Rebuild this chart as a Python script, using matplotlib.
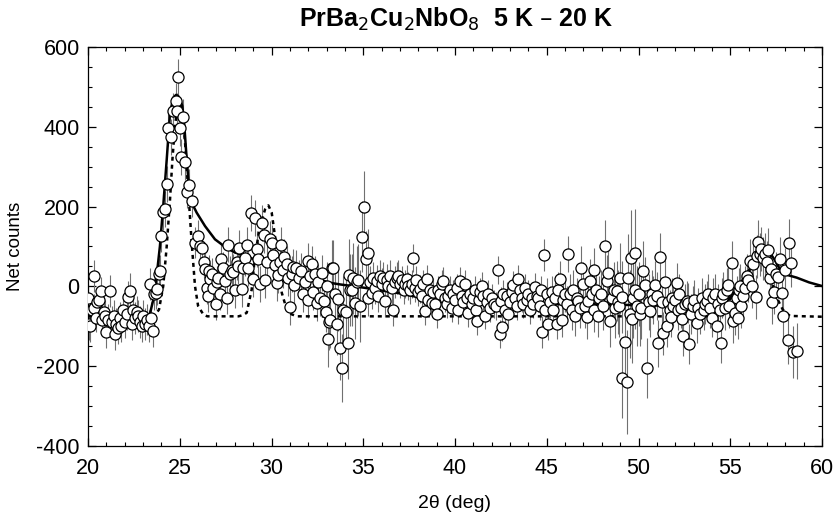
import matplotlib
matplotlib.use("Agg")
import matplotlib.pyplot as plt
from matplotlib.ticker import MultipleLocator

# ---- data ----
two_theta = [20.0, 20.05, 20.1, 20.2, 20.3, 20.35, 20.45, 20.5, 20.6, 20.7, 20.75, 20.85, 20.95, 21.0, 21.1, 21.2, 21.3, 21.4, 21.47, 21.55,
             21.65, 21.75, 21.8, 21.9, 22.0, 22.1, 22.16, 22.29, 22.38, 22.47, 22.55, 22.65, 22.74, 22.82, 22.92, 23.0, 23.1, 23.2, 23.32, 23.38,
             23.45, 23.56, 23.62, 23.69, 23.78, 23.85, 23.92, 23.98, 24.07, 24.2, 24.29, 24.38, 24.52, 24.65, 24.78, 24.85, 24.89, 25.0, 25.07, 25.2,
             25.29, 25.38, 25.5, 25.65, 25.83, 26.01, 26.1, 26.2, 26.3, 26.38, 26.47, 26.52, 26.59, 26.65, 26.75, 26.83, 26.96, 27.05, 27.1, 27.18,
             27.25, 27.37, 27.47, 27.56, 27.65, 27.75, 27.85, 27.92, 28.0, 28.1, 28.2, 28.25, 28.37, 28.45, 28.55, 28.65, 28.74, 28.88, 29.0, 29.1,
             29.19, 29.28, 29.37, 29.5, 29.6, 29.65, 29.75, 29.92, 30.01, 30.1, 30.2, 30.28, 30.37, 30.45, 30.52, 30.6, 30.7, 30.83, 30.92, 31.0,
             31.1, 31.19, 31.24, 31.35, 31.5, 31.61, 31.73, 31.85, 31.97, 32.0, 32.1, 32.19, 32.28, 32.38, 32.46, 32.55, 32.64, 32.77, 32.88, 32.95,
             33.05, 33.1, 33.15, 33.19, 33.28, 33.37, 33.45, 33.55, 33.61, 33.73, 33.83, 33.92, 34.04, 34.15, 34.22, 34.3, 34.37, 34.45, 34.55, 34.65,
             34.73, 34.83, 34.95, 35.06, 35.13, 35.24, 35.28, 35.35, 35.46, 35.55, 35.65, 35.73, 35.82, 35.9, 36.0, 36.1, 36.19, 36.28, 36.37, 36.46,
             36.55, 36.64, 36.73, 36.82, 36.91, 37.0, 37.1, 37.2, 37.28, 37.37, 37.46, 37.55, 37.64, 37.73, 37.82, 37.9, 38.0, 38.09, 38.2, 38.28,
             38.37, 38.46, 38.55, 38.64, 38.73, 38.82, 38.91, 39.0, 39.09, 39.18, 39.27, 39.36, 39.45, 39.55, 39.64, 39.73, 39.82, 39.91, 40.0, 40.09,
             40.18, 40.27, 40.36, 40.45, 40.54, 40.64, 40.73, 40.82, 40.91, 41.0, 41.09, 41.14, 41.22, 41.3, 41.38, 41.45, 41.54, 41.63, 41.72, 41.8,
             41.9, 42.0, 42.1, 42.23, 42.36, 42.45, 42.5, 42.55, 42.64, 42.73, 42.82, 42.91, 43.0, 43.09, 43.18, 43.27, 43.36, 43.45, 43.54, 43.63,
             43.69, 43.8, 43.9, 44.0, 44.1, 44.18, 44.27, 44.36, 44.45, 44.54, 44.62, 44.7, 44.76, 44.87, 44.91, 45.0, 45.09, 45.18, 45.27, 45.36,
             45.45, 45.54, 45.63, 45.72, 45.81, 45.9, 46.0, 46.1, 46.18, 46.27, 46.36, 46.45, 46.54, 46.63, 46.72, 46.8, 46.87, 46.99, 47.08, 47.18,
             47.27, 47.36, 47.45, 47.55, 47.59, 47.7, 47.78, 47.87, 47.96, 48.05, 48.17, 48.27, 48.36, 48.45, 48.55, 48.64, 48.72, 48.81, 48.9, 48.94,
             49.0, 49.08, 49.12, 49.26, 49.36, 49.45, 49.55, 49.59, 49.63, 49.7, 49.8, 49.81, 49.9, 50.0, 50.08, 50.14, 50.27, 50.36, 50.45, 50.55,
             50.63, 50.72, 50.81, 50.9, 50.99, 51.08, 51.17, 51.26, 51.35, 51.44, 51.53, 51.62, 51.72, 51.77, 51.81, 51.9, 52.0, 52.08, 52.15, 52.21,
             52.3, 52.36, 52.44, 52.53, 52.63, 52.71, 52.75, 52.86, 52.95, 53.05, 53.17, 53.25, 53.35, 53.45, 53.55, 53.62, 53.72, 53.8, 53.9, 53.99,
             54.08, 54.17, 54.26, 54.35, 54.44, 54.49, 54.55, 54.62, 54.7, 54.8, 54.89, 54.95, 55.07, 55.17, 55.26, 55.35, 55.41, 55.48, 55.53, 55.6,
             55.71, 55.8, 55.9, 55.98, 56.08, 56.16, 56.26, 56.38, 56.45, 56.5, 56.6, 56.68, 56.78, 56.9, 57.0, 57.08, 57.15, 57.22, 57.29, 57.4,
             57.5, 57.58, 57.71, 57.8, 57.89, 58.0, 58.13, 58.2, 58.31, 58.44, 58.62]
net_counts = [-30, -95, -100, -60, 25, -55, -80, -40, -35, -12, -85, -65, -75, -115, -85, -12, -90, -75, -120, -95,
              -105, -80, -100, -60, -90, -70, -26, -12, -95, -58, -80, -65, -74, -90, -99, -75, -95, -83, -99, 5,
              -80, -112, -20, -16, -6, 30, 38, 126, 186, 195, 256, 396, 375, 439, 464, 440, 525, 398, 325, 425,
              311, 236, 253, 214, 110, 126, 100, 97, 60, 43, -3, -24, 38, 18, 30, -3, -45, 10, 22, -20,
              69, 47, 13, -28, 105, 30, 40, 36, -10, 60, 50, 97, -6, 45, 70, 105, 47, 185, 19, 172,
              93, 69, 5, 158, 128, 16, 60, 118, 108, 78, 53, 9, 28, 60, 103, 40, 74, 55, 20, -51,
              30, 49, 3, 45, 20, 38, -18, 10, 63, -33, 25, 55, -14, 30, -41, 10, -28, 34, -37, -64,
              0, -131, -90, -84, 47, 47, -20, -93, -31, -154, -204, -60, -64, -143, 28, -10, -8, 20, -41, 10,
              16, -49, 125, 200, 68, 84, -28, 10, -16, 20, -5, 13, -24, 25, 5, 20, -37, 15, 1, 25,
              -5, -60, 10, 20, 26, 5, 15, -10, 5, 18, 0, -8, 5, 72, -5, 15, -15, -6, -25, 5,
              -62, 19, -35, -10, -41, -15, -45, -70, -10, -20, 5, 13, -30, -45, -25, -10, -53, -20, -35, -5,
              -58, 13, -25, -40, 5, -30, -66, -20, -45, -30, -10, -58, -87, -35, -15, 1, -24, -73, -40, -20,
              -55, -30, -45, -49, 41, -120, -37, -101, -20, -60, -24, -70, -40, -15, 3, -30, -50, 18, -10, -28,
              -45, -5, -35, -20, -60, -30, -43, -1, -25, -28, -50, -10, -114, 78, -58, -20, -95, -40, -15, -60,
              -30, -93, -10, 18, -83, -35, -20, -45, 82, -20, -60, -10, -74, -30, -37, -55, 47, 5, -50, -76,
              -37, 13, -20, -60, 41, -10, -73, -30, -18, -50, 101, 13, 33, -87, -30, -10, -55, -12, -40, -48,
              20, -26, -229, -140, -240, 22, -70, 72, -81, -30, 83, -8, -50, -20, -70, -53, 38, 3, -204, -40,
              -62, -20, -35, 3, -23, -143, 74, -40, -118, 11, -98, -40, -60, -76, -28, -50, -35, 9, -60, -20,
              -55, -81, -125, -45, -37, -41, -145, -70, -50, -35, -91, -55, -70, -30, -60, -45, -37, -20, -55, -78,
              -30, -18, -98, -45, -60, -143, -30, -20, -55, -10, 3, -49, 58, -87, -66, -30, -78, -10, 1, -49,
              -24, -3, 25, 16, 63, 1, 55, -26, 75, 111, 80, 94, 70, 80, 60, 91, 20, 44, -39, -14,
              30, 24, 69, -16, -74, 40, -135, 110, 58, -165, -162]
count_errors = [35, 40, 40, 35, 40, 35, 35, 35, 35, 35, 40, 35, 40, 40, 40, 40, 40, 40, 40, 40,
                40, 40, 40, 40, 40, 40, 40, 45, 40, 40, 40, 40, 40, 40, 40, 40, 40, 40, 40, 40,
                40, 40, 40, 40, 40, 40, 40, 40, 45, 45, 45, 45, 45, 45, 45, 45, 45, 45, 45, 45,
                45, 40, 40, 40, 40, 40, 40, 40, 40, 40, 40, 40, 40, 40, 40, 40, 40, 40, 40, 40,
                40, 40, 40, 40, 45, 45, 45, 45, 45, 45, 45, 45, 45, 45, 45, 45, 45, 45, 45, 45,
                45, 45, 45, 45, 45, 45, 45, 45, 45, 45, 45, 45, 45, 45, 45, 45, 45, 45, 45, 45,
                45, 45, 45, 45, 45, 45, 45, 45, 45, 45, 45, 45, 45, 45, 45, 45, 45, 45, 50, 50,
                60, 70, 70, 70, 70, 70, 80, 80, 80, 80, 85, 85, 85, 90, 90, 90, 90, 90, 90, 90,
                90, 90, 90, 90, 70, 60, 45, 40, 40, 40, 40, 40, 40, 40, 40, 40, 40, 40, 40, 40,
                40, 40, 40, 40, 40, 35, 35, 35, 35, 35, 35, 35, 35, 35, 35, 35, 35, 35, 35, 35,
                35, 35, 35, 35, 35, 35, 35, 35, 35, 35, 35, 35, 35, 35, 35, 35, 35, 35, 35, 35,
                35, 35, 35, 35, 35, 35, 35, 35, 35, 35, 35, 35, 35, 35, 35, 35, 35, 35, 35, 35,
                35, 35, 35, 35, 35, 35, 35, 35, 35, 35, 35, 35, 35, 35, 35, 35, 35, 35, 35, 35,
                35, 35, 35, 35, 35, 35, 35, 35, 35, 35, 35, 35, 40, 40, 40, 40, 40, 40, 40, 40,
                40, 40, 45, 45, 45, 45, 45, 45, 45, 50, 50, 50, 50, 50, 50, 50, 55, 55, 55, 55,
                55, 55, 55, 55, 55, 55, 55, 55, 60, 60, 65, 65, 65, 65, 70, 70, 75, 75, 80, 80,
                90, 90, 100, 110, 130, 110, 110, 120, 110, 100, 110, 100, 100, 80, 80, 80, 75, 70, 75, 70,
                65, 60, 60, 60, 60, 60, 60, 55, 55, 55, 55, 50, 50, 50, 50, 50, 50, 50, 50, 50,
                50, 50, 50, 50, 50, 50, 50, 50, 50, 50, 50, 50, 50, 50, 50, 50, 50, 50, 50, 50,
                50, 50, 50, 50, 50, 50, 50, 55, 55, 55, 55, 55, 55, 55, 55, 55, 55, 55, 55, 55,
                55, 55, 55, 55, 55, 55, 55, 55, 55, 55, 55, 55, 55, 55, 55, 55, 55, 55, 55, 55,
                55, 55, 55, 55, 55, 55, 60, 60, 60, 65, 70]

fit_solid_x = [20, 21, 22, 22.8, 23.29, 23.56, 23.74, 23.92, 24.1, 24.29, 24.47, 24.65, 24.8, 24.92, 25.05, 25.14, 25.25,
               25.38, 25.5, 25.65, 25.92, 26.38, 26.92, 27.5, 28.0, 28.65, 29.5, 30.46, 31.5, 32.28, 33.19, 33.73, 35.0,
               36.82, 38.64, 40.5, 42.27, 44.0, 45.9, 47.72, 50.0, 52.0, 53.17, 54.0, 54.8, 55.4, 55.9, 56.16, 56.45,
               56.8, 57.1, 57.4, 57.71, 58.0, 58.62, 59.3, 60]
fit_solid_y = [-68, -75, -82, -87, -85, -33, 26, 101, 201, 318, 435, 473, 480, 477, 465, 452, 402,
               318, 251, 210, 185, 151, 118, 98, 85, 76, 58, 43, 30, 22, 9, 5, -3,
               -16, -33, -43, -49, -48, -44, -45, -47, -49, -49, -46, -38, -5, 34, 47, 68,
               93, 88, 68, 43, 30, 22, 10, 1]

fit_dotted_x = [20, 23.6, 23.87, 24.1, 24.29, 24.47, 24.6, 24.74, 24.85, 24.92, 25.0, 25.1, 25.29, 25.47, 25.65, 25.83,
                26.0, 26.28, 26.5, 28.2, 28.45, 28.65, 28.92, 29.1, 29.37, 29.65, 29.83, 30.01, 30.19, 30.37, 30.56,
                30.83, 31.1, 31.4, 54.3, 54.8, 55.4, 55.9, 56.16, 56.45, 56.8, 57.0, 57.26, 57.5, 57.86, 58.25, 60]
fit_dotted_y = [-75, -75, -58, 1, 101, 218, 318, 402, 440, 452, 455, 448, 360, 235, 110, 1,
                -49, -70, -75, -75, -72, -66, -8, 76, 151, 193, 203, 185, 126, 43, -16,
                -58, -70, -75, -75, -45, -5, 34, 47, 68, 90, 70, 13, -25, -58, -74, -76]

x_ticks = [20, 25, 30, 35, 40, 45, 50, 55, 60]
y_ticks = [-400, -200, 0, 200, 400, 600]

# ---- figure ----
plt.rcParams['font.family'] = ['Liberation Sans', 'DejaVu Sans']
fig = plt.figure(figsize=(8.35, 5.18), dpi=100)
ax = fig.add_axes([88 / 835, 1 - 446 / 518, (822 - 88) / 835, (446 - 47) / 518])

ax.errorbar(two_theta, net_counts, yerr=count_errors, fmt='none', ecolor='#707070',
            elinewidth=0.8, capsize=0, zorder=2)
ax.plot(fit_dotted_x, fit_dotted_y, color='black', lw=1.8, linestyle=(0, (1.6, 1.6)), zorder=3)
ax.plot(fit_solid_x, fit_solid_y, color='black', lw=1.8, zorder=3)
ax.plot(two_theta, net_counts, linestyle='none', marker='o', ms=8, mfc='white',
        mec='black', mew=0.9, zorder=4)

ax.set_xlim(20, 60)
ax.set_ylim(-400, 600)
ax.set_xticks(x_ticks)
ax.set_yticks(y_ticks)
ax.set_xticklabels([str(v) for v in x_ticks])
ax.set_yticklabels([str(v) for v in y_ticks])
ax.xaxis.set_minor_locator(MultipleLocator(1))
ax.yaxis.set_minor_locator(MultipleLocator(50))
ax.tick_params(which='both', direction='in', top=True, right=True, labelsize=15.5)
ax.tick_params(axis='x', pad=9)
ax.tick_params(axis='y', pad=6)
ax.tick_params(which='major', length=6, width=0.9)
ax.tick_params(which='minor', length=3, width=0.8)
for s in ax.spines.values():
    s.set_linewidth(0.9)

ax.set_xlabel('2θ (deg)', fontsize=14, labelpad=11)
ax.set_ylabel('Net counts', fontsize=13.5, labelpad=9)
fig.text(0.546, 0.963, r'PrBa$_2$Cu$_2$NbO$_8$  5 K – 20 K', ha='center', va='center',
         fontsize=18, fontweight='bold')

fig.savefig('out.png', dpi=100)
